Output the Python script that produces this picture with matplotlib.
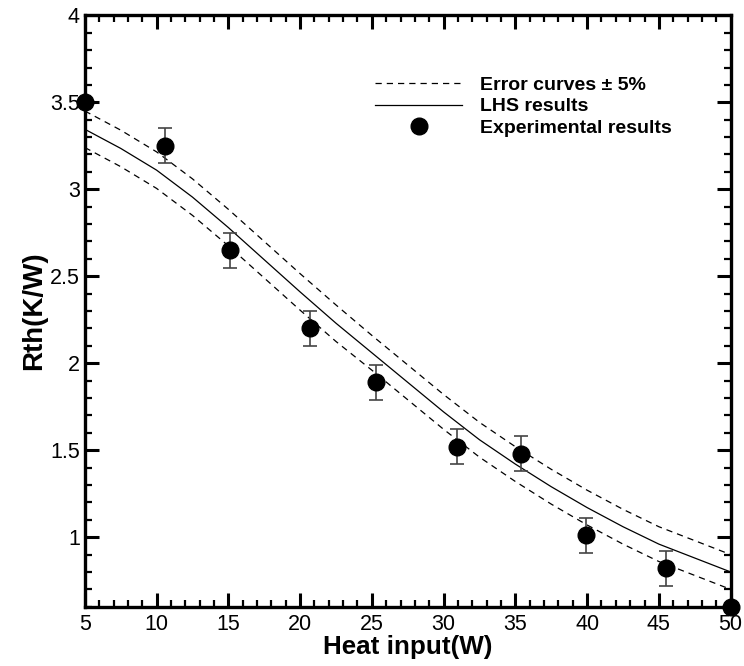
import matplotlib
matplotlib.use("Agg")
import matplotlib.pyplot as plt
from matplotlib.ticker import MultipleLocator, FuncFormatter
from matplotlib.lines import Line2D

plt.rcParams["font.family"] = ["Liberation Sans", "DejaVu Sans"]

# experimental points
exp_x = [5.0, 10.6, 15.1, 20.7, 25.3, 30.9, 35.4, 39.9, 45.5, 50.0]
exp_y = [3.50, 3.25, 2.65, 2.20, 1.89, 1.52, 1.48, 1.01, 0.82, 0.60]
exp_err = [0.0, 0.10, 0.10, 0.10, 0.10, 0.10, 0.10, 0.10, 0.10, 0.0]

# LHS model and error curves
lhs_x = [5, 7.5, 10, 12.5, 15, 17.5, 20, 22.5, 25, 27.5,
         30, 32.5, 35, 37.5, 40, 42.5, 45, 47.5, 50]
lhs_y = [3.345, 3.235, 3.11, 2.955, 2.78, 2.595, 2.41, 2.23, 2.06, 1.89,
         1.72, 1.56, 1.42, 1.29, 1.17, 1.06, 0.96, 0.88, 0.80]
upper_y = [3.45, 3.34, 3.215, 3.06, 2.885, 2.70, 2.515, 2.335, 2.16, 1.99,
           1.82, 1.66, 1.52, 1.39, 1.27, 1.16, 1.06, 0.98, 0.90]
lower_y = [3.24, 3.13, 3.005, 2.85, 2.675, 2.49, 2.305, 2.125, 1.96, 1.79,
           1.62, 1.46, 1.32, 1.19, 1.07, 0.96, 0.86, 0.78, 0.70]

fig = plt.figure(figsize=(7.44, 6.66), dpi=100)
ax = fig.add_axes([0.114, 0.089, 0.868, 0.888])

dash = (0, (5, 4))
ax.plot(lhs_x, upper_y, ls=dash, color="black", lw=0.9)
ax.plot(lhs_x, lower_y, ls=dash, color="black", lw=0.9)
ax.plot(lhs_x, lhs_y, color="black", lw=0.9)
ax.errorbar(exp_x, exp_y, yerr=exp_err, fmt="o", color="black", ms=12,
            ecolor="#444444", elinewidth=1.2, capsize=5, capthick=1.2,
            clip_on=False, zorder=5)

ax.set_xlim(5, 50)
ax.set_ylim(0.6, 4)
ax.xaxis.set_major_locator(MultipleLocator(5))
ax.xaxis.set_minor_locator(MultipleLocator(1))
ax.yaxis.set_major_locator(MultipleLocator(0.5))
ax.yaxis.set_minor_locator(MultipleLocator(0.1))
ax.yaxis.set_major_formatter(FuncFormatter(lambda v, p: "%g" % v))
ax.tick_params(which="both", direction="in", top=True, right=True, labelsize=15.5, width=1.6)
ax.tick_params(which="major", length=10, width=2.2)
ax.tick_params(which="minor", length=5)
ax.tick_params(axis="x", pad=5)
for s in ax.spines.values():
    s.set_linewidth(2.4)

ax.set_xlabel("Heat input(W)", fontsize=18.7, fontweight="bold", labelpad=0)
ax.set_ylabel("Rth(K/W)", fontsize=20, fontweight="bold", labelpad=2)

handles = [
    Line2D([], [], ls=dash, color="black", lw=0.9),
    Line2D([], [], color="black", lw=0.9),
    Line2D([], [], marker="o", ls="none", color="black", ms=12),
]
labels = ["Error curves \u00b1 5%", "LHS results", "Experimental results"]
ax.legend(handles, labels, loc="upper left", bbox_to_anchor=(0.449, 0.897),
          frameon=False, borderpad=0, borderaxespad=0, handlelength=4.5,
          handletextpad=0.9, labelspacing=0.2, prop={"weight": "bold", "size": 14})

fig.savefig("out.png", dpi=100)
